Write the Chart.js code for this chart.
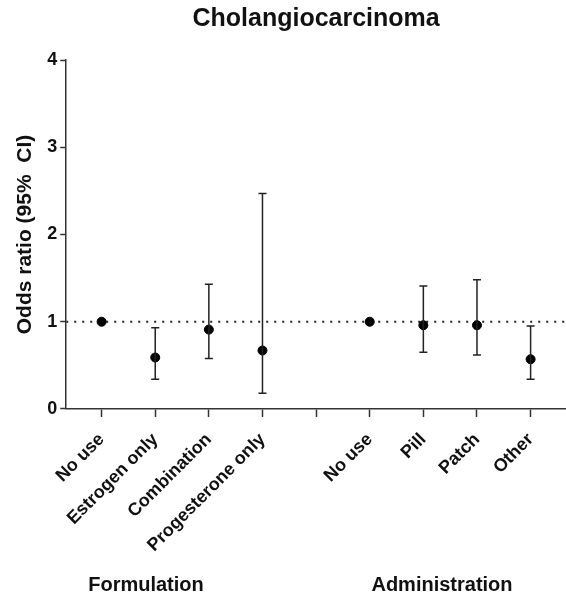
<!DOCTYPE html>
<html>
<head>
<meta charset="utf-8">
<script src="https://cdn.jsdelivr.net/npm/chart.js@4.4.0/dist/chart.umd.min.js"></script>
<style>
  body { margin: 0; background: #fff; }
  #wrap { width: 566px; height: 602px; position: relative; }
</style>
</head>
<body>
<div id="wrap"><canvas id="forest"></canvas></div>
<script>
const categories = ["No use", "Estrogen only", "Combination", "Progesterone only", "",
  "No use", "Pill", "Patch", "Other"];
const oddsRatio = [1.0, 0.59, 0.91, 0.67, null, 1.0, 0.96, 0.96, 0.57];
const lowerCI = [null, 0.34, 0.58, 0.18, null, null, 0.65, 0.62, 0.34];
const upperCI = [null, 0.93, 1.43, 2.47, null, null, 1.41, 1.48, 0.95];
const yTicks = [0, 1, 2, 3, 4];
const groups = ["Formulation", "Administration"];
const refValue = 1;

const FONT = "'Liberation Sans', Arial, sans-serif";

const points = [];
oddsRatio.forEach((v, i) => {
  if (v !== null) points.push({ x: i, y: v });
});

// whiskers for the 95% CI
const errorBars = {
  id: "errorBars",
  afterDatasetsDraw(chart) {
    const ctx = chart.ctx;
    const xs = chart.scales.x;
    const ys = chart.scales.y;
    ctx.save();
    ctx.strokeStyle = "#222";
    ctx.lineWidth = 1.5;
    for (let i = 0; i < categories.length; i++) {
      if (lowerCI[i] === null) continue;
      const x = xs.getPixelForValue(i);
      const lo = ys.getPixelForValue(lowerCI[i]);
      const hi = ys.getPixelForValue(upperCI[i]);
      ctx.beginPath();
      ctx.moveTo(x, lo);
      ctx.lineTo(x, hi);
      ctx.moveTo(x - 4, lo);
      ctx.lineTo(x + 4, lo);
      ctx.moveTo(x - 4, hi);
      ctx.lineTo(x + 4, hi);
      ctx.stroke();
    }
    ctx.restore();
  }
};

// group captions under the rotated labels
const groupLabels = {
  id: "groupLabels",
  afterDraw(chart) {
    const ctx = chart.ctx;
    ctx.save();
    ctx.fillStyle = "#111";
    ctx.font = "bold 20px " + FONT;
    ctx.textAlign = "center";
    ctx.textBaseline = "middle";
    ctx.fillText(groups[0], 146, 585);
    ctx.fillText(groups[1], 442, 585);
    ctx.restore();
  }
};

new Chart(document.getElementById("forest"), {
  type: "scatter",
  data: {
    datasets: [
      {
        type: "line",
        data: [{ x: -0.66, y: refValue }, { x: 8.66, y: refValue }],
        borderColor: "#222",
        borderWidth: 2,
        borderDash: [2, 6],
        pointRadius: 0,
        order: 2
      },
      {
        data: points,
        backgroundColor: "#000",
        borderColor: "#000",
        pointRadius: 4.5,
        order: 1
      }
    ]
  },
  options: {
    responsive: true,
    maintainAspectRatio: false,
    animation: false,
    layout: { autoPadding: false, padding: { left: 13, right: 0, top: 0, bottom: 34 } },
    plugins: {
      legend: { display: false },
      tooltip: { enabled: false },
      title: {
        display: true,
        text: "Cholangiocarcinoma",
        fullSize: false,
        color: "#111",
        font: { family: FONT, size: 25, weight: "bold" },
        padding: { top: 4, bottom: 26 }
      }
    },
    scales: {
      x: {
        type: "linear",
        min: -0.66,
        max: 8.66,
        afterBuildTicks(scale) {
          scale.ticks = categories.map((c, i) => ({ value: i }));
        },
        ticks: {
          autoSkip: false,
          maxRotation: 45,
          minRotation: 45,
          color: "#111",
          padding: 12,
          font: { family: FONT, size: 18, weight: "bold" },
          callback: (v) => categories[v]
        },
        grid: { drawOnChartArea: false, drawTicks: true, tickLength: 8, tickColor: "#333", tickWidth: 1.5 },
        border: { color: "#333", width: 1.5 }
      },
      y: {
        min: 0,
        max: 4,
        afterBuildTicks(scale) {
          scale.ticks = yTicks.map((v) => ({ value: v }));
        },
        ticks: {
          color: "#111",
          padding: 3,
          font: { family: FONT, size: 18, weight: "bold" }
        },
        title: {
          display: true,
          text: "Odds ratio (95%  CI)",
          color: "#111",
          font: { family: FONT, size: 21, weight: "bold" },
          padding: { top: 0, bottom: 6 }
        },
        grid: { drawOnChartArea: false, drawTicks: true, tickLength: 6, tickColor: "#333", tickWidth: 1.5 },
        border: { color: "#333", width: 1.5 }
      }
    }
  },
  plugins: [errorBars, groupLabels]
});
</script>
</body>
</html>
